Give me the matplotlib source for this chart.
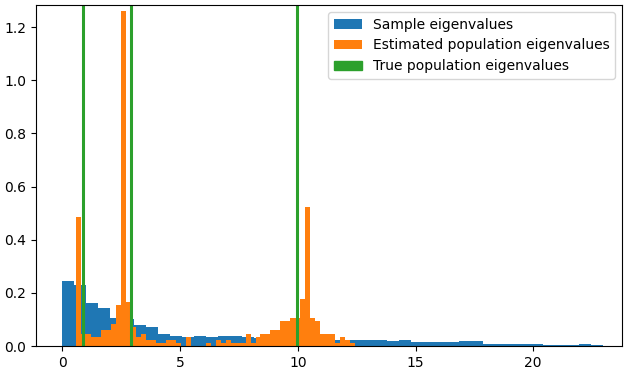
import numpy as np
import matplotlib
matplotlib.use("Agg")
import matplotlib.pyplot as plt
from matplotlib.patches import Patch

# sample eigenvalue histogram (density), 45 equal bins
sample_start, sample_width = 0.0, 0.51
sample_density = [
    0.245, 0.23, 0.163, 0.143, 0.105, 0.10, 0.079, 0.071, 0.045, 0.038,
    0.033, 0.038, 0.035, 0.038, 0.038, 0.033, 0.03, 0.03, 0.03, 0.03,
    0.03, 0.03, 0.023, 0.023, 0.023, 0.023, 0.023, 0.019, 0.023, 0.015,
    0.015, 0.015, 0.015, 0.019, 0.019, 0.0075, 0.0075, 0.0075, 0.0075, 0.0075,
    0.004, 0.004, 0.004, 0.0075, 0.004,
]

# estimated population eigenvalue histogram (density), 56 equal bins
est_start, est_width = 0.60, 0.2112
est_density = [
    0.485, 0.045, 0.045, 0.034, 0.034, 0.06, 0.06, 0.083, 0.154, 1.26,
    0.165, 0.071, 0.034, 0.045, 0.023, 0.023, 0.011, 0.011, 0.023, 0.023,
    0.011, 0.0, 0.034, 0.0, 0.0, 0.0, 0.011, 0.0, 0.023, 0.011,
    0.023, 0.011, 0.011, 0.011, 0.045, 0.011, 0.034, 0.045, 0.045, 0.06,
    0.06, 0.094, 0.094, 0.105, 0.105, 0.177, 0.523, 0.105, 0.094, 0.045,
    0.045, 0.045, 0.011, 0.034, 0.023, 0.011,
]

# positions of the true population eigenvalue bars
true_eigs = [0.89, 2.93, 9.98]


def hist_from_density(ax, start, width, density, **kw):
    edges = start + width * np.arange(len(density) + 1)
    centers = (edges[:-1] + edges[1:]) / 2
    ax.hist(centers, bins=edges, weights=density, **kw)


fig = plt.figure(figsize=(6.28, 3.75), dpi=100)
ax = fig.add_axes([36 / 628, 1 - 346 / 375, (622 - 36) / 628, (346 - 5) / 375])

hist_from_density(ax, sample_start, sample_width, sample_density,
                  color='C0', label='Sample eigenvalues')
hist_from_density(ax, est_start, est_width, est_density,
                  color='C1', label='Estimated population eigenvalues')
for v in true_eigs:
    ax.axvline(v, color='C2', lw=2.2)

ax.set_xlim(-1.12, 23.77)
ax.set_ylim(0, 1.283)

handles, labels = ax.get_legend_handles_labels()
handles.append(Patch(color='C2'))
labels.append('True population eigenvalues')
ax.legend(handles, labels, loc='upper right')

fig.savefig('out.png', dpi=100)
